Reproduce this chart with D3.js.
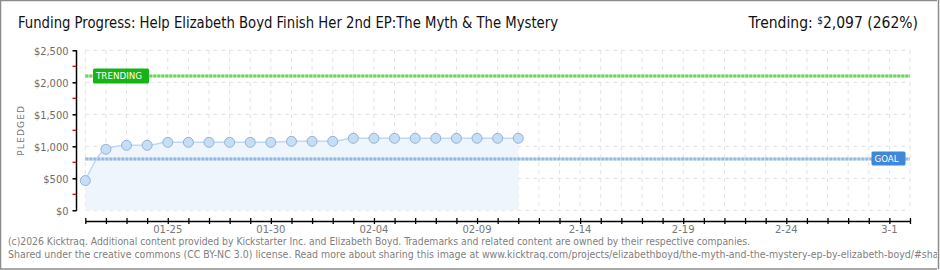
<!DOCTYPE html>
<html><head><meta charset="utf-8">
<script src="https://cdn.jsdelivr.net/npm/d3@7"></script>
<style>
html,body{margin:0;padding:0;background:#fff;}
svg{display:block;}
</style></head>
<body><svg id="c" width="940" height="270"></svg>
<script>
// ---- data ----
const startDate = "2026-01-21";
const endDate = "2026-03-02";
const pledged = [465, 953, 1016, 1016, 1062, 1062, 1062, 1062, 1062, 1062, 1078, 1078, 1078,
                 1125, 1125, 1125, 1125, 1125, 1125, 1125, 1125, 1125];
const goal = 800;
const trending = 2097;
const yTicks = [0, 500, 1000, 1500, 2000, 2500];
const yMinorTicks = [250, 750, 1250, 1750, 2250];
const xTickLabels = ["01-25", "01-30", "02-04", "02-09", "2-14", "2-19", "2-24", "3-1"];
const xTickDates = ["2026-01-25", "2026-01-30", "2026-02-04", "2026-02-09", "2026-02-14", "2026-02-19", "2026-02-24", "2026-03-01"];
const titleText = "Funding Progress: Help Elizabeth Boyd Finish Her 2nd EP:The Myth & The Mystery";
const footer1 = "(c)2026 Kicktraq. Additional content provided by Kickstarter Inc. and Elizabeth Boyd. Trademarks and related content are owned by their respective companies.";
const footer2 = "Shared under the creative commons (CC BY-NC 3.0) license. Read more about sharing this image at www.kicktraq.com/projects/elizabethboyd/the-myth-and-the-mystery-ep-by-elizabeth-boyd/#sharing";

const svg = d3.select("#c");
const parse = d3.utcParse("%Y-%m-%d");
const t0 = parse(startDate), t1 = parse(endDate);
const days = d3.utcDay.range(t0, d3.utcDay.offset(t1, 1));
const pts = pledged.map((v, i) => ({d: d3.utcDay.offset(t0, i), v}));

const x = d3.scaleUtc().domain([t0, t1]).range([85.3, 910]);
const y = d3.scaleLinear().domain([0, 2500]).range([210.3, 50.3]);

// border
svg.append("rect").attr("x", 0.5).attr("y", 0.5).attr("width", 938.5).attr("height", 268.5)
  .attr("fill", "#fff").attr("stroke", "#8c8c8c").attr("stroke-width", 1.5);

// gridlines
const grid = svg.append("g");
grid.selectAll("line.v").data(days).join("line")
  .attr("x1", d => x(d)).attr("x2", d => x(d)).attr("y1", y(2500)).attr("y2", y(0))
  .attr("stroke", "#e2e2e2").attr("stroke-dasharray", "4,4").attr("stroke-width", 1);
grid.selectAll("line.h").data(yTicks).join("line")
  .attr("x1", x(t0)).attr("x2", x(t1)).attr("y1", d => y(d)).attr("y2", d => y(d))
  .attr("stroke", "#e2e2e2").attr("stroke-dasharray", "4,4").attr("stroke-width", 1);

// area + line
const curve = d3.curveMonotoneX;
svg.append("path").datum(pts)
  .attr("d", d3.area().x(d => x(d.d)).y0(y(0)).y1(d => y(d.v)).curve(curve))
  .attr("fill", "#eef5fd");
svg.append("path").datum(pts)
  .attr("d", d3.line().x(d => x(d.d)).y(d => y(d.v)).curve(curve))
  .attr("fill", "none").attr("stroke", "#bcdaf6").attr("stroke-width", 1.5);

// goal & trending lines
function dotted(val, light, dark) {
  svg.append("line").attr("x1", x(t0)).attr("x2", x(t1)).attr("y1", y(val)).attr("y2", y(val))
    .attr("stroke", light).attr("stroke-width", 3);
  svg.append("line").attr("x1", x(t0)).attr("x2", x(t1)).attr("y1", y(val)).attr("y2", y(val))
    .attr("stroke", dark).attr("stroke-width", 3).attr("stroke-dasharray", "3,1");
}
dotted(goal, "#d6e6f6", "#94bbe4");
dotted(trending, "#d0f0c8", "#6fd35d");

// points
svg.selectAll("circle.p").data(pts).join("circle")
  .attr("cx", d => x(d.d)).attr("cy", d => y(d.v)).attr("r", 5)
  .attr("fill", "#c6ddf6").attr("stroke", "#95b2d3").attr("stroke-width", 1);

// y axis
const yAxis = svg.append("g").attr("transform", `translate(76.5,0)`)
  .call(d3.axisLeft(y).tickValues(yTicks).tickSize(4).tickFormat(d => "$" + d3.format(",")(d)));
yAxis.select(".domain").attr("stroke", "#000").attr("stroke-width", 1.5).attr("d", `M0,${y(2500)}V${y(0)+0.5}`);
yAxis.selectAll(".tick line").attr("stroke", "#000").attr("stroke-width", 1.5);
yAxis.selectAll(".tick text").attr("fill", "#6d6d6d").attr("font-family", "DejaVu Sans Condensed, DejaVu Sans")
  .attr("font-size", 11).attr("x", -8).attr("dy", "0.35em");
svg.append("g").selectAll("line").data(yMinorTicks).join("line")
  .attr("x1", 72.5).attr("x2", 76).attr("y1", d => y(d)).attr("y2", d => y(d))
  .attr("stroke", "#e00000").attr("stroke-width", 1.3);

// y title
svg.append("text").attr("transform", `translate(24,${(y(0)+y(2500))/2 + 0}) rotate(-90)`)
  .attr("text-anchor", "middle").attr("fill", "#777").attr("font-family", "DejaVu Sans")
  .attr("font-size", 9).attr("letter-spacing", 1.2).text("PLEDGED");

// x axis
const xAxis = svg.append("g").attr("transform", `translate(0,221)`)
  .call(d3.axisBottom(x).tickValues(days).tickSize(0).tickFormat(""));
xAxis.select(".domain").attr("stroke", "#000").attr("stroke-width", 1.5);
xAxis.selectAll(".tick line").attr("stroke", "#000").attr("y1", -3).attr("y2", 3).attr("stroke-width", 1.3);
svg.append("g").selectAll("text").data(xTickDates).join("text")
  .attr("x", d => x(parse(d))).attr("y", 233).attr("text-anchor", "middle")
  .attr("fill", "#777").attr("font-family", "DejaVu Sans").attr("font-size", 10)
  .text((d, i) => xTickLabels[i]);

// labels
function tag(x0, y0, w, h, col, txt) {
  svg.append("rect").attr("x", x0).attr("y", y0).attr("width", w).attr("height", h)
    .attr("rx", 1.5).attr("fill", col);
  svg.append("text").attr("x", x0 + 3).attr("y", y0 + h/2).attr("dy", "0.36em")
    .attr("fill", "#fff").attr("font-family", "DejaVu Sans").attr("font-size", 9)
    .attr("textLength", w - 10).attr("lengthAdjust", "spacingAndGlyphs").text(txt);
}
tag(93, y(trending) - 7.5, 56, 15, "#17b417", "TRENDING");
tag(871.5, y(goal) - 7.5, 34, 14, "#3d88d8", "GOAL");

// title
const title = svg.append("text").attr("x", 18).attr("y", 28)
  .attr("font-family", "Liberation Sans Narrow, DejaVu Sans Condensed").attr("font-size", 16)
  .attr("fill", "#111").text(titleText);
title.attr("textLength", 540).attr("lengthAdjust", "spacingAndGlyphs");

// trending text
const tr = svg.append("text").attr("x", 918).attr("y", 28).attr("text-anchor", "end")
  .attr("font-family", "Liberation Sans Narrow, DejaVu Sans Condensed").attr("font-size", 15.5).attr("fill", "#111");
tr.append("tspan").text("Trending:  ");
tr.append("tspan").attr("font-size", 10).attr("dy", -4).text("$");
tr.append("tspan").attr("dy", 4).text(d3.format(",")(trending) + " (" + Math.round(trending / goal * 100) + "%)");

// footer
svg.append("text").attr("x", 8).attr("y", 245).attr("fill", "#808080")
  .attr("font-family", "DejaVu Sans Condensed, DejaVu Sans").attr("font-size", 9.6)
  .attr("textLength", 742).attr("lengthAdjust", "spacingAndGlyphs").text(footer1);
svg.append("text").attr("x", 8).attr("y", 258).attr("fill", "#808080")
  .attr("font-family", "DejaVu Sans Condensed, DejaVu Sans").attr("font-size", 9.6)
  .attr("textLength", 949).attr("lengthAdjust", "spacingAndGlyphs").text(footer2);
// right border re-drawn over clipped footer
svg.append("rect").attr("x", 937).attr("y", 0).attr("width", 3).attr("height", 270).attr("fill", "#fff");
svg.append("line").attr("x1", 938.5).attr("x2", 938.5).attr("y1", 0).attr("y2", 269).attr("stroke", "#8c8c8c").attr("stroke-width", 1.5);
</script>
</body></html>
